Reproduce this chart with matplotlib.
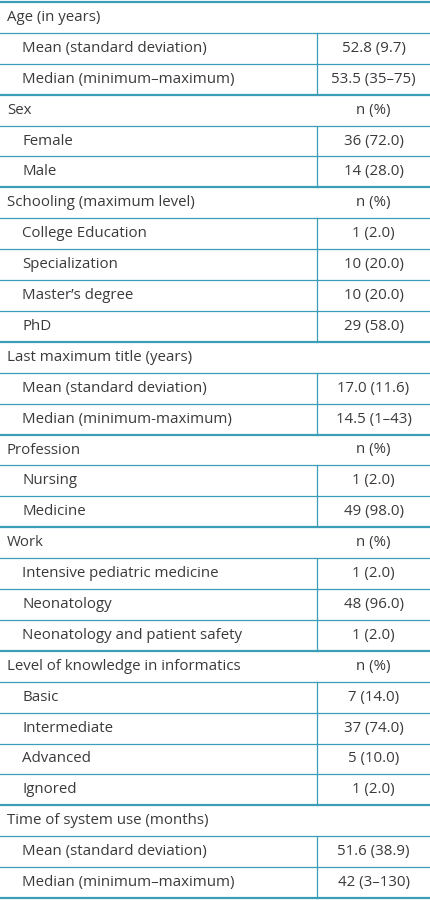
import matplotlib
matplotlib.use("Agg")
import matplotlib.pyplot as plt

sections = ["Age (in years)", "Sex", "Schooling (maximum level)", "Last maximum title (years)",
            "Profession", "Work", "Level of knowledge in informatics", "Time of system use (months)"]
section_right = ["", "n (%)", "n (%)", "", "n (%)", "n (%)", "n (%)", ""]
items = [
    ["Mean (standard deviation)", "Median (minimum\u2013maximum)"],
    ["Female", "Male"],
    ["College Education", "Specialization", "Master\u2019s degree", "PhD"],
    ["Mean (standard deviation)", "Median (minimum-maximum)"],
    ["Nursing", "Medicine"],
    ["Intensive pediatric medicine", "Neonatology", "Neonatology and patient safety"],
    ["Basic", "Intermediate", "Advanced", "Ignored"],
    ["Mean (standard deviation)", "Median (minimum\u2013maximum)"],
]
values = [
    ["52.8 (9.7)", "53.5 (35\u201375)"],
    ["36 (72.0)", "14 (28.0)"],
    ["1 (2.0)", "10 (20.0)", "10 (20.0)", "29 (58.0)"],
    ["17.0 (11.6)", "14.5 (1\u201343)"],
    ["1 (2.0)", "49 (98.0)"],
    ["1 (2.0)", "48 (96.0)", "1 (2.0)"],
    ["7 (14.0)", "37 (74.0)", "5 (10.0)", "1 (2.0)"],
    ["51.6 (38.9)", "42 (3\u2013130)"],
]

rows = []
for s, r, its, vs in zip(sections, section_right, items, values):
    rows.append((s, r, True))
    for i, v in zip(its, vs):
        rows.append((i, v, False))

W, H = 430, 900
fig = plt.figure(figsize=(W/100, H/100), dpi=100)
ax = fig.add_axes([0, 0, 1, 1])
ax.set_xlim(0, W); ax.set_ylim(H, 0); ax.axis("off")
teal = "#3b9db6"
txt = "#3a3a3a"
top, bot = 2, 898
rh = (bot - top) / len(rows)
vx = 317
fs = 10.8
for k, (a, b, hdr) in enumerate(rows):
    y0 = top + k * rh
    yc = y0 + rh / 2
    lw = 1.6 if hdr or k == 0 else 0.9
    ax.plot([0, W], [y0, y0], color=teal, lw=lw)
    ax.text(7 if hdr else 22, yc, a, va="center", ha="left", fontsize=fs, color=txt, family="Open Sans")
    ax.text((vx + W) / 2, yc, b, va="center", ha="center", fontsize=fs, color=txt, family="Open Sans")
    if not hdr:
        ax.plot([vx, vx], [y0, y0 + rh], color=teal, lw=0.9)
ax.plot([0, W], [bot, bot], color=teal, lw=1.6)
fig.savefig("out.png", dpi=100, facecolor="white")
